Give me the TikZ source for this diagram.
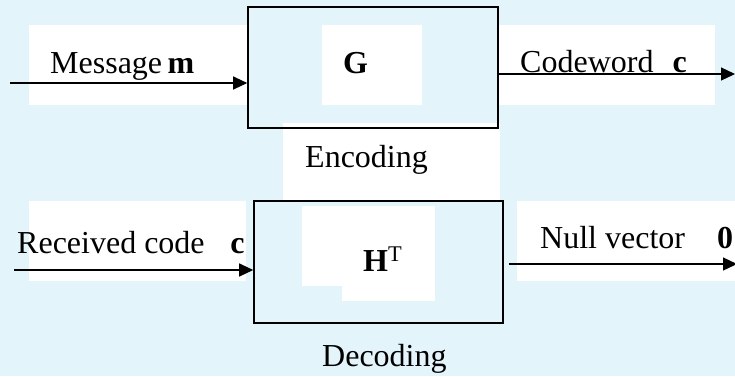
\documentclass[tikz,border=0pt]{standalone}
\usepackage{fontspec}
\setmainfont{Liberation Serif}
\usetikzlibrary{arrows.meta, positioning}
\definecolor{code_bg}{RGB}{227, 244, 251}

\begin{document}
\begin{tikzpicture}[
        x=1pt, y=-1pt,
        every node/.style={font=\fontsize{32}{38}\selectfont, inner sep=0pt},
        pad/.style={fill=white, draw=none},
        blk/.style={draw=black, line width=1.6pt, inner sep=0pt},
        txt/.style={anchor=base west},
        arr/.style={draw, line width=1.2pt, -{Triangle[length=14pt, width=13pt]}}
    ]
    \useasboundingbox[fill=code_bg] (0,0) rectangle (735,376);
    % white patches behind the labels
    \fill[pad] (29,25) rectangle (247,105);
    \fill[pad] (322,25) rectangle (422,105);
    \fill[pad] (498,25) rectangle (715,105);
    \fill[pad] (283,123) rectangle (500,201);
    \fill[pad] (29,201) rectangle (246,281);
    \fill[pad] (302,206) rectangle (435,286);
    \fill[pad] (342,286) rectangle (435,301);
    \fill[pad] (517,201) rectangle (735,281);
    % blocks
    \node[blk, minimum width=250pt, minimum height=121pt] (enc) at (373,67.5) {};
    \node[blk, minimum width=249pt, minimum height=122pt] (dec) at (378.5,262) {};
    % labels
    \node[txt] (msg) at (50,73) {Message\,\textbf{m}};
    \node[txt] (gmat) at (343,73) {\textbf{G}};
    \node[txt] (cw) at (520,72) {Codeword\hspace{0.6em}\textbf{c}};
    \node[txt] (enclbl) at (305,167) {Encoding};
    \node[txt] (rcv) at (17,253) {Received code\hspace{0.8em}\textbf{c}};
    \node[txt] (hmat) at (363,271) {$\mathbf{H}^{\mathrm{T}}$};
    \node[txt] (nul) at (540,248) {Null vector\hspace{1.0em}\textbf{0}};
    \node[txt] (declbl) at (322,366) {Decoding};
    % connectors
    \coordinate (min) at (10,83);
    \coordinate (cout) at (735,74);
    \coordinate (rin) at (14,270);
    \coordinate (nout) at (737,264);
    \draw[arr] (min) -- (min -| enc.west);
    \draw[arr] (enc.east |- cout) -- (cout);
    \draw[arr] (rin) -- (rin -| dec.west);
    \draw[arr, shorten <=5pt] (dec.east |- nout) -- (nout);
\end{tikzpicture}
\end{document}
